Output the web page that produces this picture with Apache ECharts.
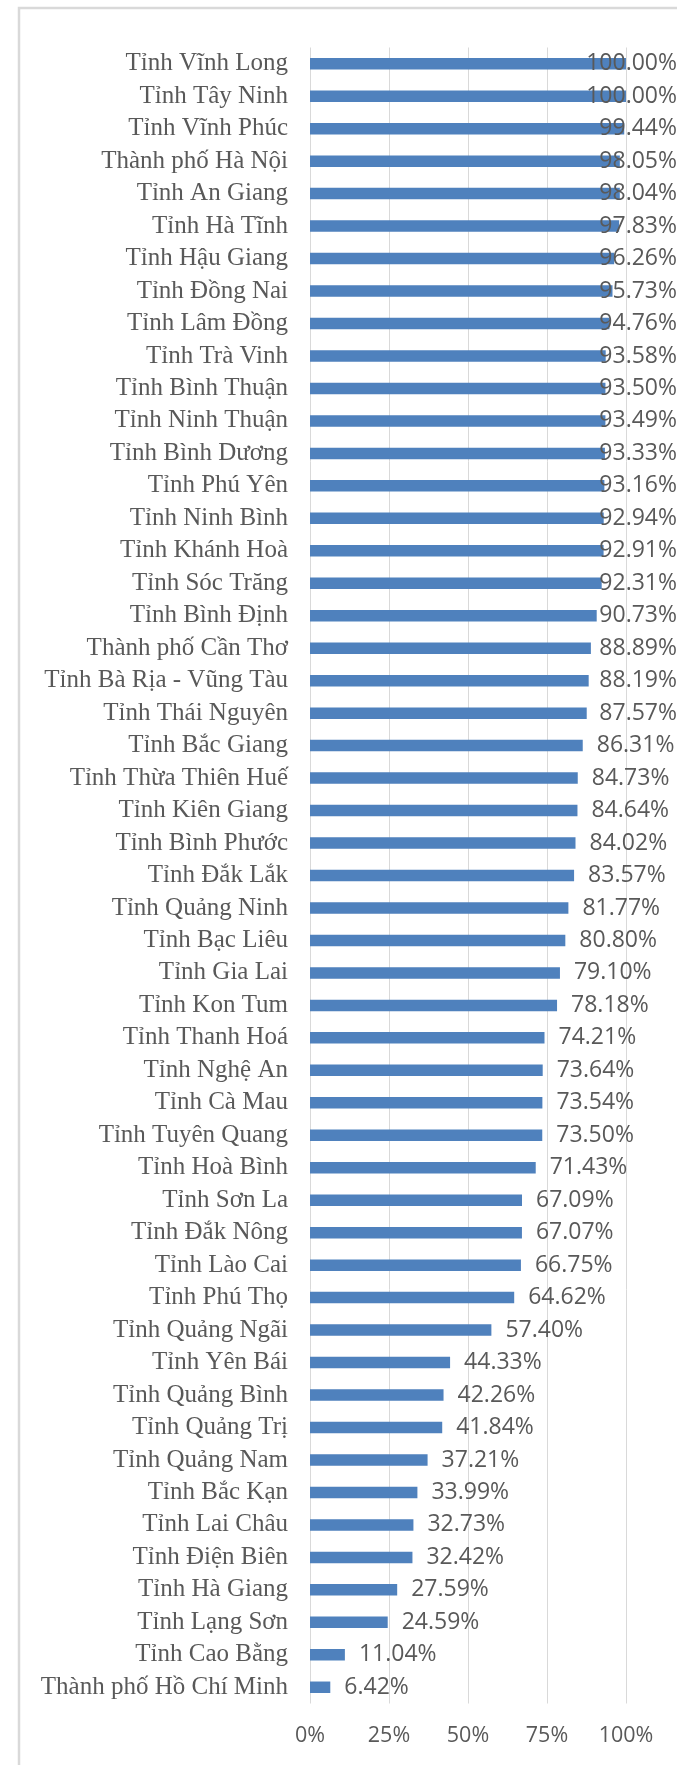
<!DOCTYPE html>
<html>
<head>
<meta charset="utf-8">
<script src="https://cdn.jsdelivr.net/npm/echarts@6/dist/echarts.min.js"></script>
<style>
    html, body {margin: 0; padding: 0; background: #fff;}
    .rate_chart {width: 677px; height: 1765px;}
</style>
</head>
<body>
<div class="rate_chart"></div>
<script>

var provinces = ['Tỉnh Vĩnh Long', 'Tỉnh Tây Ninh', 'Tỉnh Vĩnh Phúc', 'Thành phố Hà Nội', 'Tỉnh An Giang',
    'Tỉnh Hà Tĩnh', 'Tỉnh Hậu Giang', 'Tỉnh Đồng Nai', 'Tỉnh Lâm Đồng', 'Tỉnh Trà Vinh',
    'Tỉnh Bình Thuận', 'Tỉnh Ninh Thuận', 'Tỉnh Bình Dương', 'Tỉnh Phú Yên', 'Tỉnh Ninh Bình',
    'Tỉnh Khánh Hoà', 'Tỉnh Sóc Trăng', 'Tỉnh Bình Định', 'Thành phố Cần Thơ', 'Tỉnh Bà Rịa - Vũng Tàu',
    'Tỉnh Thái Nguyên', 'Tỉnh Bắc Giang', 'Tỉnh Thừa Thiên Huế', 'Tỉnh Kiên Giang', 'Tỉnh Bình Phước',
    'Tỉnh Đắk Lắk', 'Tỉnh Quảng Ninh', 'Tỉnh Bạc Liêu', 'Tỉnh Gia Lai', 'Tỉnh Kon Tum',
    'Tỉnh Thanh Hoá', 'Tỉnh Nghệ An', 'Tỉnh Cà Mau', 'Tỉnh Tuyên Quang', 'Tỉnh Hoà Bình',
    'Tỉnh Sơn La', 'Tỉnh Đắk Nông', 'Tỉnh Lào Cai', 'Tỉnh Phú Thọ', 'Tỉnh Quảng Ngãi',
    'Tỉnh Yên Bái', 'Tỉnh Quảng Bình', 'Tỉnh Quảng Trị', 'Tỉnh Quảng Nam', 'Tỉnh Bắc Kạn',
    'Tỉnh Lai Châu', 'Tỉnh Điện Biên', 'Tỉnh Hà Giang', 'Tỉnh Lạng Sơn', 'Tỉnh Cao Bằng',
    'Thành phố Hồ Chí Minh'];

var rates = [100.00, 100.00, 99.44, 98.05, 98.04,
    97.83, 96.26, 95.73, 94.76, 93.58,
    93.50, 93.49, 93.33, 93.16, 92.94,
    92.91, 92.31, 90.73, 88.89, 88.19,
    87.57, 86.31, 84.73, 84.64, 84.02,
    83.57, 81.77, 80.80, 79.10, 78.18,
    74.21, 73.64, 73.54, 73.50, 71.43,
    67.09, 67.07, 66.75, 64.62, 57.40,
    44.33, 42.26, 41.84, 37.21, 33.99,
    32.73, 32.42, 27.59, 24.59, 11.04,
    6.42];

var xTicks = [0, 25, 50, 75, 100];

var myChart = echarts.init(document.querySelector('.rate_chart'), null, {renderer: 'canvas'});

var option = {
    backgroundColor: '#fff',
    animation: false,
    /* chart area frame */
    graphic: [{
        type: 'rect',
        shape: {x: 19, y: 8, width: 700, height: 1800},
        style: {fill: 'none', stroke: '#d9d9d9', lineWidth: 2.5},
        silent: true
    }],
    grid: {
        left: 310,
        right: 51,
        top: 47.5,
        bottom: 61.5
    },
    xAxis: {
        type: 'value',
        min: xTicks[0],
        max: xTicks[xTicks.length - 1],
        interval: xTicks[1] - xTicks[0],
        axisLine: {show: false},
        axisTick: {show: false},
        splitLine: {lineStyle: {color: '#d9d9d9', width: 1}},
        axisLabel: {
            margin: 21,
            color: '#595959',
            fontFamily: 'Open Sans',
            fontSize: 21.5,
            formatter: function(v){ return v + '%'; }
        }
    },
    yAxis: {
        type: 'category',
        inverse: true,
        data: provinces,
        axisLine: {show: false},
        axisTick: {show: false},
        axisLabel: {
            interval: 0,
            margin: 22,
            color: '#595959',
            fontFamily: 'Liberation Serif',
            fontSize: 25
        }
    },
    series: [{
        type: 'bar',
        data: rates,
        barWidth: 11.5,
        itemStyle: {color: '#4f81bd'},
        label: {
            show: true,
            position: 'right',
            distance: 14,
            color: '#595959',
            fontFamily: 'Open Sans',
            fontSize: 23,
            formatter: function(p){ return p.value.toFixed(2) + '%'; }
        },
        /* push labels back inside when they run past the right edge */
        labelLayout: function(params){
            var r = params.labelRect;
            var lim = myChart.getWidth();
            if (r.x + r.width > lim) {
                return {x: lim - r.width, y: r.y, align: 'left', verticalAlign: 'top'};
            }
            return {};
        }
    }]
};

myChart.setOption(option);

</script>
</body>
</html>
